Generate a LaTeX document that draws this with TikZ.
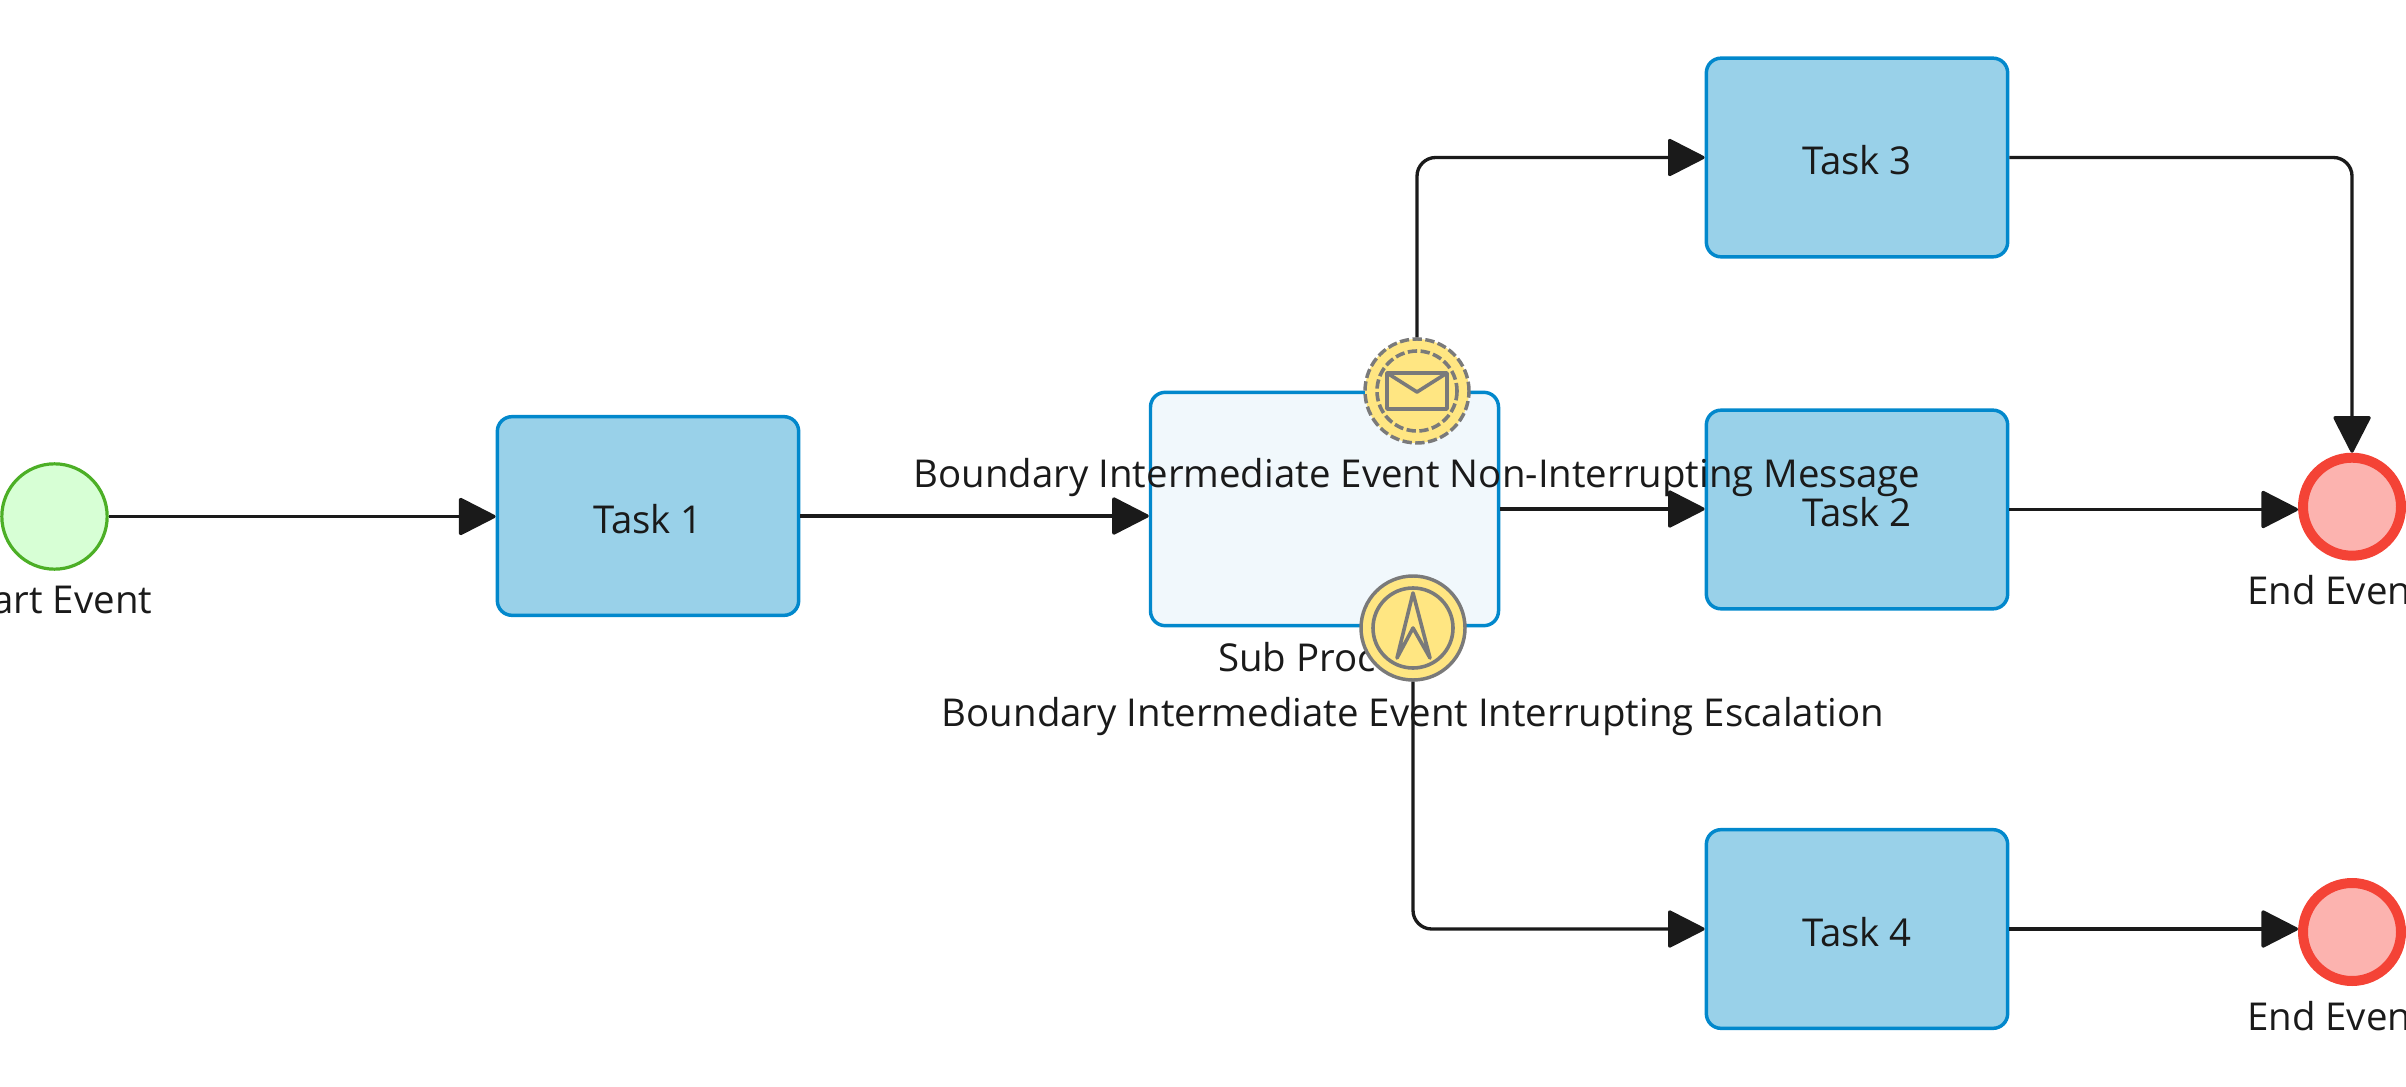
\documentclass[tikz,border=0pt]{standalone}
\usepackage{fontspec}
\setmainfont{Open Sans}
\usetikzlibrary{arrows.meta}
\definecolor{taskfill}{HTML}{99D1E9}
\definecolor{taskline}{HTML}{0288CC}
\definecolor{subfill}{HTML}{F1F8FC}
\definecolor{evfill}{HTML}{FFE682}
\definecolor{evline}{HTML}{7A7A7A}
\definecolor{startfill}{HTML}{D7FFD5}
\definecolor{startline}{HTML}{4CAF26}
\definecolor{endfill}{HTML}{FCB3AF}
\definecolor{endline}{HTML}{F44336}
\definecolor{ink}{HTML}{1A1A1A}
\tikzset{
	task/.style={draw=taskline,fill=taskfill,line width=2.6pt,rounded corners=11pt,minimum width=226pt,minimum height=149pt,inner sep=0pt,text=ink,text height=25.6pt,text depth=0pt},
	startev/.style={circle,draw=startline,fill=startfill,line width=2.4pt,minimum size=79pt,inner sep=0pt},
	endev/.style={circle,draw=endline,fill=endfill,line width=7.5pt,minimum size=73.5pt,inner sep=0pt},
	boundev/.style={circle,draw=evline,fill=evfill,line width=2.6pt,minimum size=78pt,inner sep=0pt},
	dashpat/.style={dash pattern=on 7pt off 2.6pt},
	lbl/.style={text=ink,inner sep=0pt},
	flow/.style={draw=ink,line width=2.5pt,rounded corners=14pt,-{Triangle[length=29pt,width=29pt,round]}},
	icon/.style={draw=evline,line width=2.7pt,line join=round}
}
\begin{document}
\begin{tikzpicture}[x=0.75pt,y=-0.75pt]
	\useasboundingbox (0,0) rectangle (2406,1087);
	\tikzstyle{every node}+=[font=\fontsize{28.8}{34}\selectfont]
	% flow elements
	\node [startev] (start) at (54.5,516.5) {};
	\node [task] (task1) at (648,516) {Task 1};
	\node [task,fill=subfill,minimum width=261pt,minimum height=175pt] (sub) at (1324.5,509) {};
	\node [task] (task3) at (1857,157.5) {Task 3};
	\node [task] (task2) at (1857,509.5) {Task 2};
	\node [task] (task4) at (1857,929) {Task 4};
	\node [endev] (end1) at (2352,506.7) {};
	\node [endev] (end2) at (2352,932) {};
	% labels
	\node [lbl] (startlbl) at (55,600) {Start Event};
	\node [lbl] (sublbl) at (1326,657) {Sub Process};
	\node [lbl] (end1lbl) at (2336,590) {End Event};
	\node [lbl] (end2lbl) at (2336,1016) {End Event};
	% boundary events
	\node [boundev,dashpat] (msg) at (1417,391) {};
	\node [boundev] (esc) at (1413,628) {};
	\draw [icon,dashpat] (msg) circle (40);
	\draw [icon] (1387,373) rectangle (1447,409);
	\draw [icon] (1387,373) -- (1417,392) -- (1447,373);
	\draw [icon] (esc) circle (40);
	\draw [icon] (1413,593) -- (1397,658) -- (1413,628) -- (1430,658) -- cycle;
	% connectors
	\draw [flow] (start.east) -- (start.east -| task1.west);
	\draw [flow] (task1.east) -- (task1.east -| sub.west);
	\draw [flow] (sub.east) -- (sub.east -| task2.west);
	\draw [flow] (msg.north) |- (task3.west);
	\draw [flow] (esc.south) |- (task4.west);
	\draw [flow] (task3.east) -| (end1.north);
	\draw [flow] (task2.east) -- (task2.east -| end1.west);
	\draw [flow] (task4.east) -- (task4.east -| end2.west);
	\node [lbl] (msglbl) at (1417,477.5) {Boundary Intermediate Event Non-Interrupting Message};
	\node [lbl] (esclbl) at (1413,716.5) {Boundary Intermediate Event Interrupting Escalation};
\end{tikzpicture}
\end{document}
